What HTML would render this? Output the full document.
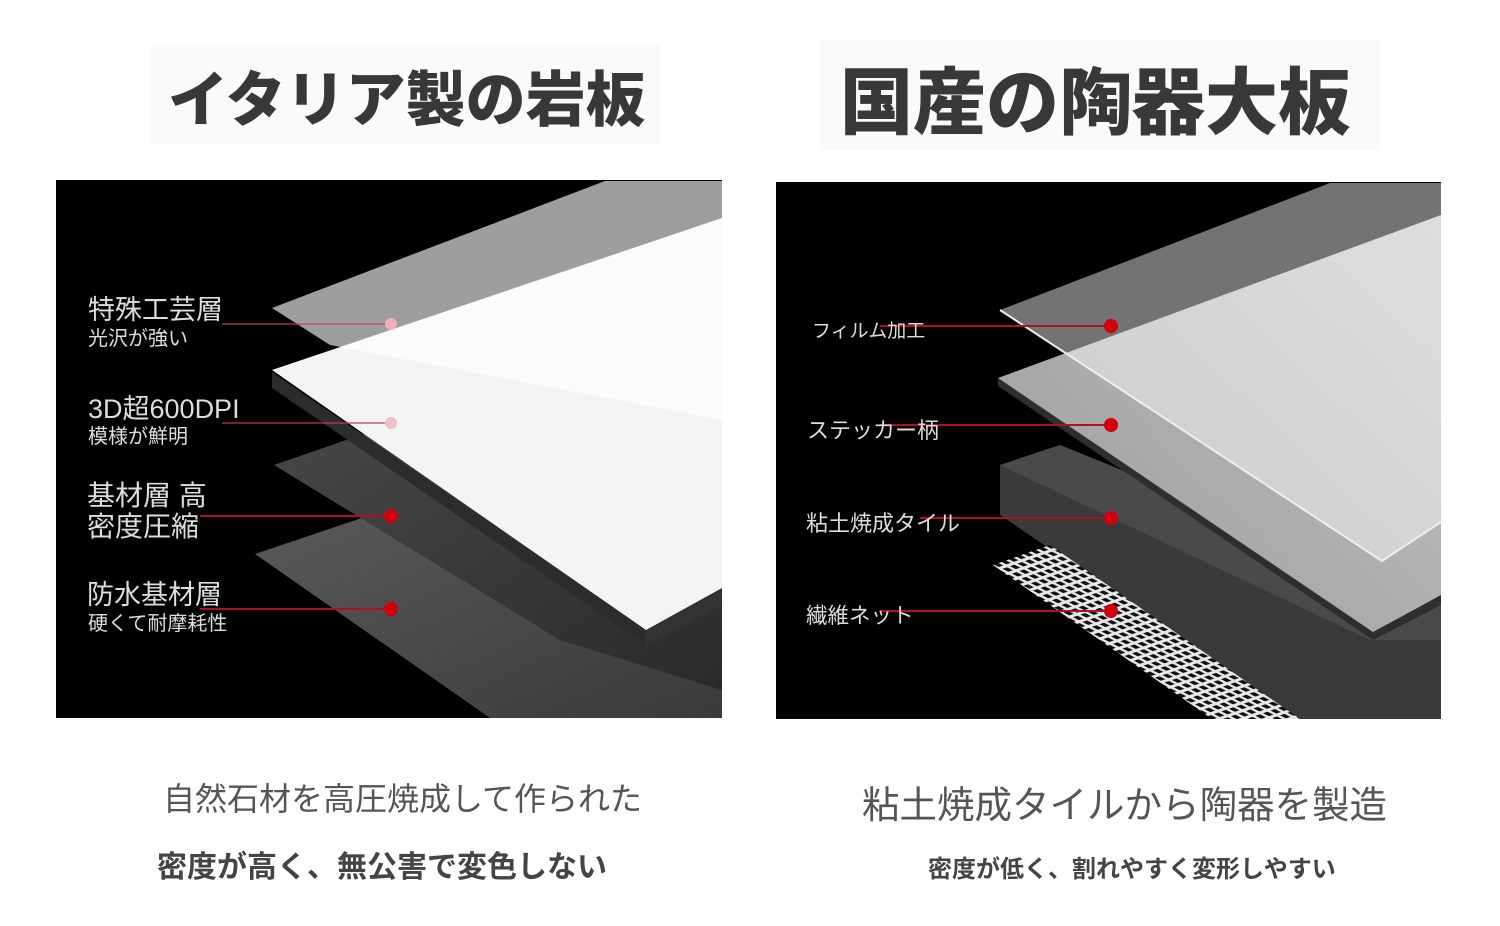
<!DOCTYPE html>
<html><head><meta charset="utf-8"><style>
html,body{margin:0;padding:0;background:#fff;}
body{width:1500px;height:926px;position:relative;overflow:hidden;font-family:"Liberation Sans","Noto Sans CJK JP",sans-serif;}
.t{position:absolute;white-space:nowrap;}
</style></head><body>
<svg width="1500" height="926" style="position:absolute;left:0;top:0" xmlns="http://www.w3.org/2000/svg">
<defs>
<linearGradient id="d1" x1="0" y1="0" x2="1" y2="1"><stop offset="0" stop-color="#4a4a4a"/><stop offset="1" stop-color="#2a2a2a"/></linearGradient>
<linearGradient id="d2" x1="0" y1="0" x2="1" y2="1"><stop offset="0" stop-color="#5a5a5a"/><stop offset="1" stop-color="#3a3a3a"/></linearGradient>
<linearGradient id="st" x1="0" y1="1" x2="1" y2="0"><stop offset="0" stop-color="#9a9a9a"/><stop offset="1" stop-color="#c4c4c4"/></linearGradient>
<pattern id="mesh" width="1" height="1" patternUnits="userSpaceOnUse" patternTransform="matrix(9.5,4.8,7.5,-2.6,0,0)">
<rect width="1" height="1" fill="#e8e8e8"/><rect x="0.22" y="0.25" width="0.62" height="0.6" fill="#111"/></pattern>
<clipPath id="cl"><rect x="56" y="180" width="666" height="538"/></clipPath>
<clipPath id="cr"><rect x="776" y="182" width="665" height="537"/></clipPath>
</defs>
<rect x="150" y="45" width="510" height="100" fill="#fafafa"/>
<rect x="820" y="40" width="560" height="110" fill="#fafafa"/>
<g clip-path="url(#cl)">
<rect x="56" y="180" width="666" height="538" fill="#000"/>
<polygon points="255,554 400,505 722,600 722,718 490,718" fill="url(#d2)"/>
<polygon points="274,465 520,380 722,400 722,690 560,640" fill="url(#d1)"/>
<polygon points="270,374 646,630 646,645 722,605 722,590 646,632" fill="#333"/>
<polygon points="272,372 272,388 646,645 646,630" fill="#2c2c2c"/>
<polygon points="272,370 722,218 722,588 646,630" fill="#f4f4f4"/>
<polygon points="272,308 605,181 722,181 722,420 330,345" fill="#fff" fill-opacity="0.62"/>
</g>
<g clip-path="url(#cr)">
<rect x="776" y="182" width="665" height="537" fill="#000"/>
<polygon points="1000,465 1060,445 1441,600 1441,719 1300,719 1000,515" fill="#3a3a3a"/>
<polygon points="1000,465 1060,445 1441,600 1441,640 1370,640" fill="#4a4a4a"/>
<polygon points="993,565 1050,545 1300,719 1212,719" fill="url(#mesh)"/>
<polygon points="998,378 998,386 1373,640 1441,605 1441,595 1373,632" fill="#2e2e2e"/>
<polygon points="998,378 1441,215 1441,595 1373,632" fill="url(#st)"/>
<polygon points="1000,310 1330,183 1441,183 1441,522 1382,561" fill="#fff" fill-opacity="0.45"/>
<polyline points="1000,310 1382,561 1441,522" fill="none" stroke="#eee" stroke-width="2"/>
</g>
<g stroke-width="2">
<line x1="222" y1="324" x2="391" y2="324" stroke="#c04050" stroke-opacity="0.6"/>
<line x1="222" y1="423" x2="391" y2="423" stroke="#c04050" stroke-opacity="0.6"/>
<line x1="200" y1="516" x2="391" y2="516" stroke="#b01020"/>
<line x1="200" y1="609" x2="391" y2="609" stroke="#b01020"/>
<line x1="880" y1="326" x2="1111" y2="326" stroke="#b01020"/>
<line x1="880" y1="425" x2="1111" y2="425" stroke="#b01020"/>
<line x1="920" y1="518" x2="1111" y2="518" stroke="#b01020"/>
<line x1="880" y1="611" x2="1111" y2="611" stroke="#b01020"/>
</g>
<circle cx="391" cy="324" r="6" fill="#f0b0b8"/>
<circle cx="391" cy="423" r="6" fill="#f0c0c8"/>
<circle cx="391" cy="516" r="7" fill="#d00010"/>
<circle cx="391" cy="609" r="7" fill="#d00010"/>
<circle cx="1111" cy="326" r="7" fill="#d00010"/>
<circle cx="1111" cy="425" r="7" fill="#d00010"/>
<circle cx="1111" cy="518" r="7" fill="#d00010"/>
<circle cx="1111" cy="611" r="7" fill="#d00010"/>
</svg>

<div class="t" style="left:168px;top:52px;font-size:60px;font-weight:900;color:#383838;">イタリア製の岩板</div>
<div class="t" style="left:840px;top:44px;font-size:73px;font-weight:900;color:#383838;">国産の陶器大板</div>

<div class="t" style="left:88px;top:288px;font-size:27px;color:#ddd;">特殊工芸層</div>
<div class="t" style="left:88px;top:322px;font-size:20px;color:#ddd;">光沢が強い</div>
<div class="t" style="left:88px;top:387px;font-size:27px;color:#ddd;">3D超600DPI</div>
<div class="t" style="left:88px;top:420px;font-size:20px;color:#ddd;">模様が鮮明</div>
<div class="t" style="left:87px;top:480px;font-size:28px;color:#ddd;line-height:31px;">基材層 高<br>密度圧縮</div>
<div class="t" style="left:87px;top:573px;font-size:27px;color:#ddd;">防水基材層</div>
<div class="t" style="left:88px;top:607px;font-size:20px;color:#ddd;">硬くて耐摩耗性</div>

<div class="t" style="left:812px;top:316px;font-size:19px;color:#ddd;">フィルム加工</div>
<div class="t" style="left:807px;top:413px;font-size:22px;color:#ddd;">ステッカー柄</div>
<div class="t" style="left:806px;top:506px;font-size:22px;color:#ddd;">粘土焼成タイル</div>
<div class="t" style="left:806px;top:599px;font-size:21.5px;color:#ddd;">繊維ネット</div>

<div class="t" style="left:163px;top:774px;font-size:32px;color:#555;">自然石材を高圧焼成して作られた</div>
<div class="t" style="left:157px;top:842px;font-size:30px;font-weight:bold;color:#444;">密度が高く、無公害で変色しない</div>
<div class="t" style="left:862px;top:774px;font-size:37.5px;color:#555;">粘土焼成タイルから陶器を製造</div>
<div class="t" style="left:928px;top:849px;font-size:24px;font-weight:bold;color:#444;">密度が低く、割れやすく変形しやすい</div>
</body></html>
